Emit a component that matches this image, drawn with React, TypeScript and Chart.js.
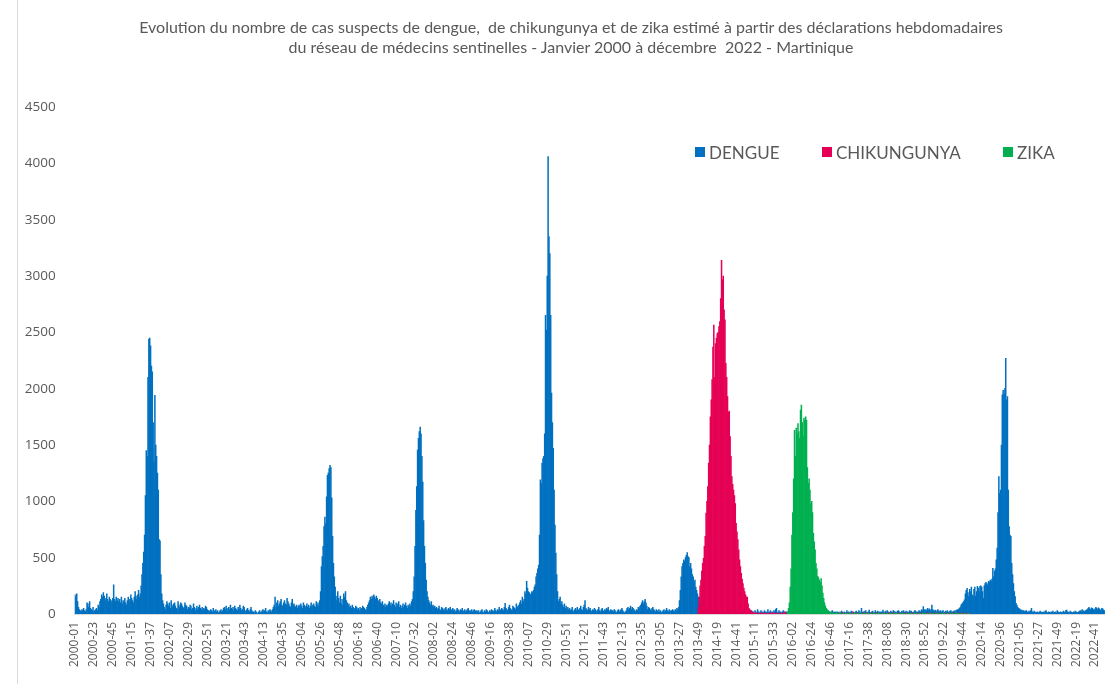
import React, { useEffect, useRef } from "react";
import { Chart, registerables } from "chart.js";

Chart.register(...registerables);

// ---------- categories ----------
const years = [2000, 2001, 2002, 2003, 2004, 2005, 2006, 2007, 2008, 2009, 2010, 2011, 2012, 2013, 2014, 2015, 2016, 2017, 2018, 2019, 2020, 2021, 2022];
const weeksPerYear = [52, 52, 52, 52, 53, 52, 52, 52, 52, 53, 52, 52, 52, 52, 52, 53, 52, 52, 52, 52, 53, 52, 52];
const labelEvery = 22;

// ---------- DENGUE weekly values ----------
const d2000 = [170,150,180,110,60,40,30,20,40,30,50,30,20,40,100,90,60,110,50,40,30,60,20,30,40,50,30,80,60,110,130,170,150,190,160,120,140,180,130,110,150,130,120,100,140,260,130,110,150,120,140,110];
const d2001 = [130,100,150,90,120,110,140,100,80,120,150,130,110,170,140,120,100,150,200,160,130,170,210,150,180,250,350,450,550,700,1050,1450,1400,2100,2440,2450,2380,2200,2150,1700,1350,1940,1500,1400,1250,1100,660,650,350,180,120,90];
const d2002 = [60,40,80,110,90,70,100,50,120,80,60,90,100,70,50,40,110,80,60,100,90,70,50,60,100,80,70,40,60,50,80,70,40,50,90,60,30,50,70,40,60,80,50,40,60,30,50,40,70,60,40,30];
const d2003 = [30,20,40,30,20,50,30,20,40,20,30,10,20,30,40,20,30,50,60,40,70,50,30,60,40,80,50,40,60,30,70,50,40,30,60,40,80,50,30,40,70,60,30,20,40,50,30,20,40,60,30,20];
const d2004 = [20,10,30,20,10,0,20,30,10,20,30,40,20,30,50,20,10,30,20,40,30,20,40,60,80,150,60,100,120,70,90,110,130,80,70,100,120,90,80,140,110,90,70,60,100,130,80,90,70,60,80,50,70];
const d2005 = [80,60,90,70,50,100,80,60,70,90,60,80,50,70,100,60,80,90,70,60,110,80,100,70,120,200,420,510,600,775,860,800,1040,1230,1250,1290,1320,1300,1030,690,450,330,240,160,120,200,140,100,160,90,130,80];
const d2006 = [180,150,200,120,100,80,90,60,70,50,80,60,40,50,70,60,40,50,30,60,40,50,70,60,50,40,30,60,80,100,120,150,130,160,140,170,150,130,160,140,120,110,130,100,90,110,80,70,90,60,80,70];
const d2007 = [90,110,80,100,70,90,120,80,60,100,70,90,110,60,80,50,70,90,60,80,100,70,50,80,60,90,70,110,130,200,330,600,920,1130,1455,1560,1620,1660,1600,1400,1170,830,600,450,300,200,150,120,100,80,110,70];
const d2008 = [80,60,70,50,60,40,50,70,40,30,60,50,40,30,50,60,40,30,50,40,60,30,40,50,30,40,20,30,50,40,30,20,40,30,50,20,30,40,20,30,40,50,30,20,30,40,20,30,40,30,20,30];
const d2009 = [20,30,10,20,30,40,20,10,30,20,40,30,20,10,30,20,40,30,20,30,50,30,20,40,30,60,40,30,50,40,30,60,95,50,40,30,60,80,50,40,30,70,60,50,40,90,60,70,80,100,120,90,150];
const d2010 = [110,130,200,180,290,230,200,190,170,180,200,190,210,240,260,330,360,400,435,700,1190,1160,1340,1380,1400,1600,2650,2520,3000,4060,3350,3200,2650,1960,1700,1470,1100,790,540,350,200,110,130,150,90,110,80,60,90,50,70,40];
const d2011 = [60,40,50,30,40,60,30,20,40,50,30,60,40,30,50,70,40,30,60,80,120,50,40,30,60,40,50,30,20,40,30,50,40,20,30,40,60,30,20,40,50,30,20,40,30,50,40,60,30,20,40,30];
const d2012 = [30,20,40,30,20,10,30,40,20,30,40,50,30,20,10,20,30,50,60,40,50,70,40,60,50,40,30,20,40,30,60,50,70,80,100,120,90,110,130,100,70,40,60,50,40,30,50,60,40,30,20,40];
const d2013 = [30,20,40,20,30,10,20,30,40,20,30,50,30,20,40,30,20,30,40,30,20,40,30,50,40,60,120,210,330,420,450,480,470,500,520,545,510,500,420,450,400,350,330,280,300,240,210,180,150,120,100,80];
const d2014 = [60,50,40,30,40,30,20,30,20,30,20,30,20,10,20,30,20,10,20,30,20,10,20,30,20,10,20,10,20,30,20,10,20,30,20,10,20,10,20,30,20,10,20,30,20,10,20,10,20,30,20,10];
const d2015 = [20,10,30,20,10,20,30,10,20,10,30,20,10,40,20,10,20,30,10,20,10,30,20,10,20,40,10,20,30,10,20,10,30,20,40,50,10,20,30,10,20,10,20,30,10,20,10,20,10,20,10,20,10];
const d2016 = [10,20,15,10,25,10,20,15,10,20,10,15,20,10,25,15,10,20,15,10,20,10,15,25,10,20,15,10,20,15,10,25,15,10,20,15,10,20,15,25,10,20,30,10,20,15,20,30,10,20,15,20];
const d2017 = [10,20,15,5,20,10,25,15,10,20,5,15,30,10,20,15,10,25,20,10,15,5,20,25,10,15,30,20,10,50,15,20,10,25,30,15,10,20,35,15,10,20,25,15,10,30,20,15,25,10,20,15];
const d2018 = [20,15,35,20,10,25,15,30,20,10,15,25,20,10,30,25,15,20,10,25,30,20,15,10,25,20,30,15,20,25,10,20,15,30,20,25,15,10,20,30,25,15,20,10,30,25,20,40,30,65,40,30];
const d2019 = [40,30,50,35,45,30,40,80,40,30,25,35,20,30,40,25,20,30,15,25,30,20,15,25,20,30,15,20,25,30,20,15,25,20,30,25,35,40,40,50,60,80,90,100,110,125,180,210,228,190,155,220];
const d2020 = [200,240,170,155,220,240,160,200,245,230,200,245,250,240,200,140,250,270,280,270,260,290,280,300,290,310,405,330,380,400,480,585,900,1220,1070,1100,1500,1945,1985,1950,2000,2270,1900,1930,1100,775,700,690,450,350,270,200,155];
const d2021 = [95,80,60,50,45,40,30,35,25,30,20,25,30,20,15,25,20,30,50,20,15,25,20,10,15,20,10,15,25,20,10,15,20,10,25,30,15,10,20,15,10,20,15,25,10,15,20,10,30,20,15,10];
const d2022 = [20,15,10,25,20,15,30,35,20,15,10,25,20,15,10,20,15,25,20,10,15,20,25,30,20,40,30,25,20,30,35,40,50,60,45,40,55,50,40,35,45,60,50,40,55,45,30,40,50,45,35,30];

// ---------- CHIKUNGUNYA weekly values (from 2013-49) ----------
const chikStart = "2013-49";
const c2013 = [60,150,250,300];
const c2014 = [380,450,495,600,690,895,1000,1130,1340,1500,1750,1900,2080,2370,2565,2100,2400,2450,2490,2500,2550,2595,2800,3140,2965,3000,2700,2610,2225,2100,1930,1790,1800,1575,1400,1220,1150,1100,1050,980,805,730,660,570,480,420,360,310,270,230,200,170];
const c2015 = [150,150,90,50,40,30,20,20,10,5,10,5,0,10,5,0,5,10,0,5,0,10,5,0,5,0,10,0,5,0,15,0,5,0,10,0,5,0,0,10,5,0,10,0,5,20,0,5,0,10,0,5,0];
const c2016 = [0,5,0,0,5,0,0,0,5,0,0,5,0,0,0,5,0,0,5,0,0,0,5,0,0,5,0,0,0,5,0,0,5,0,0,0,5,0,0,5,10,0,5,0,0,5,0,10,0,5,0,0];
const c2017 = [5,0,10,0,0,5,0,15,0,0,5,0,0,10,0,0,5,0,0,20,0,5,0,0,10,0,0,5,0,0,10,0,5,0,0,15,0,0,5,0,0,10,0,5,0,0,10,0,0,5,0,0];
const c2018 = [0,5,0,0,10,0,5,0,0,15,0,0,5,0,10,0,0,5,0,0,10,0,5,0,0,10,0,0,5,0,0,15,0,0,5,0,10,0,0,5,0,0,10,0,5,0,0,10,0,5,0,0];
const c2019 = [0,10,0,5,0,0,10,0,5,0,0,10,0,0,5,0,10,0,0,5,0,0,10,0,5,0,0,10,0,0,5,0,10,0,0,5,0,0,10,0,5,0,0,10,0,5,0,0,5,0,0,5];

// ---------- ZIKA weekly values (from 2015-49) ----------
const zikaStart = "2015-49";
const z2015 = [20,50,100,240,400];
const z2016 = [700,900,1200,1630,1400,1650,1600,1690,1620,1560,1810,1855,1700,1580,1740,1720,1750,1720,1300,1160,1200,1100,980,1000,900,715,640,570,450,400,335,320,300,280,315,250,185,140,100,70,50,40,30,20,20,15,10,5,10,5,10,5];
const z2017 = [10,5,0,10,0,5,0,0,10,0,5,0,0,5,0,10,0,0,5,0,0,10,0,0,5,0,0,10,0,5,0,0,5,0,0,10,0,5,0,0,5,0,0,10,0,0,5,0,0,10,0,0];
const z2018 = [0,5,0,0,10,0,0,5,0,0,10,0,5,0,0,0,10,0,5,0,0,0,5,0,0,10,0,0,0,5,0,0,10,0,0,5,0,0,0,10,0,5,0,0,0,5,0,0,10,0,0,5];
const z2019 = [0,0,5,0,0,10,0,0,5,0,0,0,10,0,0,5,0,0,0,5,0,10,0,0,0,5,0,0,10,0,0,5,0,0,0,10,0,0,5,0,0,0,5,0,0,0,5,0,0,0,5,0];

// ---------- y axis ----------
const yMax = 4500;
const yStep = 500;

const BLUE = "#0070C0";
const MAGENTA = "#E50055";
const GREEN = "#00B050";
const TEXT = "#595959";

const titleLines = [
  "Evolution du nombre de cas suspects de dengue,  de chikungunya et de zika estimé à partir des déclarations hebdomadaires",
  "du réseau de médecins sentinelles - Janvier 2000 à décembre  2022 - Martinique",
];
const legendItems = [
  { label: "DENGUE", color: BLUE, x: 695 },
  { label: "CHIKUNGUNYA", color: MAGENTA, x: 822 },
  { label: "ZIKA", color: GREEN, x: 1003 },
];

export default function App() {
  const ref = useRef<HTMLCanvasElement>(null);

  useEffect(() => {
    const labels: string[] = [];
    years.forEach((y, i) => {
      for (let w = 1; w <= weeksPerYear[i]; w++) labels.push(`${y}-${String(w).padStart(2, "0")}`);
    });
    const dengue = [
      ...d2000, ...d2001, ...d2002, ...d2003, ...d2004, ...d2005, ...d2006, ...d2007, ...d2008, ...d2009, ...d2010, ...d2011,
      ...d2012, ...d2013, ...d2014, ...d2015, ...d2016, ...d2017, ...d2018, ...d2019, ...d2020, ...d2021, ...d2022,
    ];
    const place = (start: string, vals: number[]) => {
      const arr: (number | null)[] = new Array(labels.length).fill(null);
      const s = labels.indexOf(start);
      vals.forEach((v, i) => {
        if (s + i < arr.length) arr[s + i] = v;
      });
      return arr;
    };
    const chik = place(chikStart, [...c2013, ...c2014, ...c2015, ...c2016, ...c2017, ...c2018, ...c2019]);
    const zika = place(zikaStart, [...z2015, ...z2016, ...z2017, ...z2018, ...z2019]);

    const tickFont = { family: "'Open Sans', sans-serif", size: 12 };

    const chart = new Chart(ref.current!, {
      type: "bar",
      data: {
        labels,
        datasets: [
          { label: "DENGUE", data: dengue, backgroundColor: BLUE, order: 3 },
          { label: "CHIKUNGUNYA", data: chik, backgroundColor: MAGENTA, order: 2 },
          { label: "ZIKA", data: zika, backgroundColor: GREEN, order: 1 },
        ],
      },
      options: {
        animation: false,
        responsive: false,
        maintainAspectRatio: false,
        layout: { padding: { top: 107, right: 7.1, left: 0, bottom: 0 } },
        datasets: {
          bar: { barPercentage: 1, categoryPercentage: 1, grouped: false, borderWidth: 0 },
        },
        plugins: {
          legend: { display: false },
          title: { display: false },
          tooltip: { enabled: false },
        },
        scales: {
          x: {
            grid: { display: false, drawTicks: false },
            border: { display: true, color: "#D9D9D9", width: 1 },
            ticks: {
              autoSkip: false,
              minRotation: 90,
              maxRotation: 90,
              padding: 8,
              color: TEXT,
              font: tickFont,
              callback: (_v: any, i: number) => (i % labelEvery === 0 ? labels[i] : null),
            },
            afterFit: (s: any) => {
              s.height = 71;
              s.paddingLeft = 0;
              s.paddingRight = 0;
            },
          },
          y: {
            min: 0,
            max: yMax,
            grid: { display: false, drawTicks: false },
            border: { display: false },
            ticks: {
              stepSize: yStep,
              padding: 19,
              color: TEXT,
              font: { ...tickFont, size: 13.5 },
              callback: (v: any) => String(v),
            },
            afterFit: (s: any) => {
              s.width = 74.6;
              s.paddingTop = 0;
              s.paddingBottom = 0;
            },
          },
        },
      },
    });
    return () => chart.destroy();
  }, []);

  return (
    <div style={{ position: "fixed", left: 0, top: 0, width: 1112, height: 685, background: "#fff", overflow: "hidden" }}>
      <div style={{ position: "absolute", left: 17, top: 0, width: 0, height: 684, borderLeft: "1px solid #D9D9D9" }} />
      <canvas ref={ref} width={1112} height={685} style={{ position: "absolute", left: 0, top: 0 }} />
      <div
        style={{
          position: "absolute",
          left: 0,
          width: 1142,
          top: 17,
          textAlign: "center",
          color: TEXT,
          fontFamily: "Lato, sans-serif",
          fontSize: 16,
          lineHeight: "20px",
          whiteSpace: "pre",
        }}
      >
        {titleLines.map((t, i) => (
          <div key={i}>{t}</div>
        ))}
      </div>
      {legendItems.map((it) => (
        <div
          key={it.label}
          style={{ position: "absolute", left: it.x, top: 141, height: 22, display: "flex", alignItems: "center", whiteSpace: "nowrap" }}
        >
          <span style={{ display: "inline-block", width: 10, height: 10, background: it.color, marginRight: 4 }} />
          <span style={{ color: TEXT, fontFamily: "Lato, sans-serif", fontSize: 17 }}>{it.label}</span>
        </div>
      ))}
    </div>
  );
}
